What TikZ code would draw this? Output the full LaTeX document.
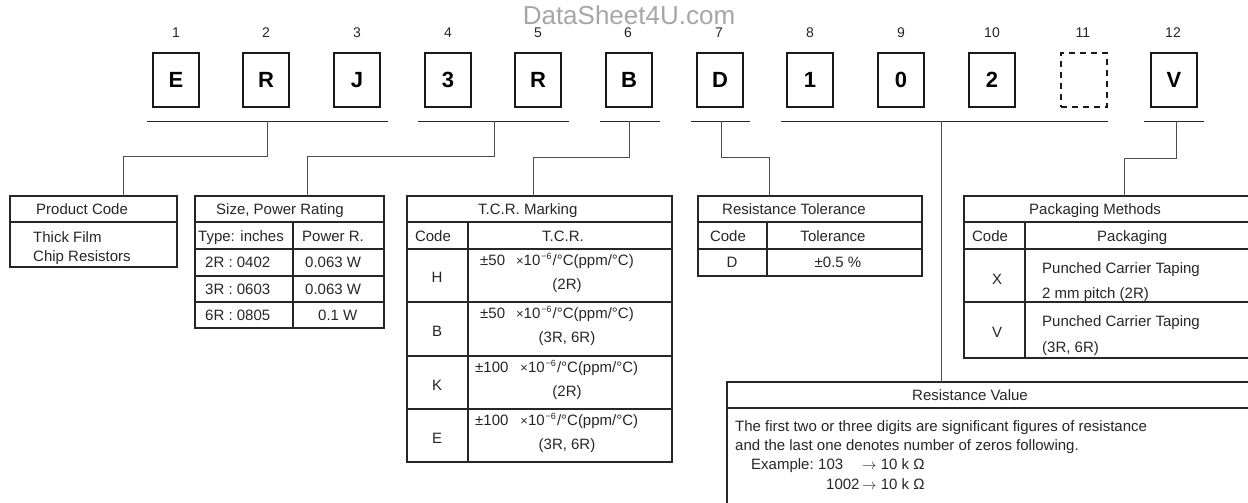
\documentclass[tikz,border=0pt]{standalone}
\usepackage{fontspec}
\setmainfont{Liberation Sans}
\newcommand{\tcrline}[2]{#1\hspace{#2}{\fontsize{13}{13}\selectfont×}10\hspace{1pt}\raisebox{6pt}{\fontsize{9}{9}\selectfont −6}\hspace{1pt}/°C(ppm/°C)}
\begin{document}
\begin{tikzpicture}[x=1pt,y=-1pt,
  letterbox/.style={draw=black!90, line width=1.3pt, minimum width=46pt, minimum height=54pt, inner sep=0pt, outer sep=0pt, text height=16pt, text depth=0pt, font=\fontsize{22}{22}\selectfont\bfseries},
  dashbox/.style={letterbox, dash pattern=on 6pt off 5pt, line width=1.2pt},
  numlabel/.style={font=\fontsize{14}{14}\selectfont, inner sep=0pt, text height=10pt, text depth=0pt, text=black!85},
  bar/.style={line width=1pt, draw=black!85},
  conn/.style={line width=1pt, draw=black!70},
  tblbox/.style={draw=black!85, line width=1.2pt, inner sep=0pt, outer sep=0pt, anchor=north west},
  tline/.style={draw=black!85, line width=1.2pt},
  txt/.style={font=\fontsize{15}{15}\selectfont, inner sep=0pt, text height=10.7pt, text depth=0pt, text=black!85, anchor=west},
  ctxt/.style={txt, anchor=center},
]
\path[use as bounding box] (0,0) rectangle (1248,503);
\clip (0,0) rectangle (1248,503);

% watermark
\node[font=\fontsize{26}{26}\selectfont, text=black!35, inner sep=0pt, text height=19pt, text depth=0pt] (wm) at (629,15) {DataSheet4U.com};

% position numbers
\foreach \i/\x in {1/176,2/266,3/357,4/448,5/538,6/628,7/719,8/810,9/901,10/992,11/1083,12/1173}
  \node[numlabel] (n\i) at (\x,33) {\i};

% letter boxes
\foreach \i/\x/\c in {1/176/E,2/266/R,3/357/J,4/448/3,5/538/R,6/629/B,7/720/D,8/810/1,9/901/0,10/992/2,12/1174/V}
  \node[letterbox] (b\i) at (\x,80) {\c};
\node[dashbox] (b11) at (1084,80) {};

% underline bars
\coordinate (bar1L) at (147,121); \coordinate (bar1R) at (388,121);
\coordinate (bar2L) at (418,121); \coordinate (bar2R) at (569,121);
\coordinate (bar3L) at (600,121); \coordinate (bar3R) at (660,121);
\coordinate (bar4L) at (691,121); \coordinate (bar4R) at (750,121);
\coordinate (bar5L) at (781,121); \coordinate (bar5R) at (1108,121);
\coordinate (bar6L) at (1144,121); \coordinate (bar6R) at (1204,121);
\foreach \k in {1,...,6} \draw[bar] (bar\k L) -- (bar\k R);

\coordinate (s1) at (267,121);
\coordinate (s2) at (494,121);
\coordinate (s3) at (629,121);
\coordinate (s4) at (721,121);
\coordinate (s5) at (941,121);
\coordinate (s6) at (1176,121);

% ---------- Product Code ----------
\node[tblbox, minimum width=167pt, minimum height=71pt] (pc) at (10,196) {};
\draw[tline] (10,222) -- (177,222);
\node[txt] (pc1) at (36,209) {Product Code};
\node[txt] (pc2) at (33,237) {Thick Film};
\node[txt] (pc3) at (33,256) {Chip Resistors};
\coordinate (pcIn) at (123,196);

% ---------- Size, Power Rating ----------
\node[tblbox, minimum width=189pt, minimum height=132pt] (sz) at (195,196) {};
\foreach \yy in {222,249,276,302} \draw[tline] (195,\yy) -- (384,\yy);
\draw[tline] (293,222) -- (293,328);
\node[txt] (sz0) at (216,209) {Size, Power Rating};
\node[txt] (sz1) at (198,236) {Type: inches};
\node[txt] (sz2) at (302,236) {Power R.};
\node[txt] (sz3) at (205,262) {2R : 0402};
\node[txt] (sz4) at (305,262) {0.063 W};
\node[txt] (sz5) at (205,289) {3R : 0603};
\node[txt] (sz6) at (305,289) {0.063 W};
\node[txt] (sz7) at (205,315) {6R : 0805};
\node[txt] (sz8) at (318,315) {0.1 W};
\coordinate (szIn) at (307,196);

% ---------- T.C.R. Marking ----------
\node[tblbox, minimum width=265pt, minimum height=266pt] (tcr) at (407,196) {};
\foreach \yy in {222,249,302,356,409} \draw[tline] (407,\yy) -- (672,\yy);
\draw[tline] (468,222) -- (468,462);
\node[txt] (tc0) at (478,209) {T.C.R. Marking};
\node[ctxt] (tc1) at (433,236) {Code};
\node[txt] (tc2) at (542,236) {T.C.R.};
\node[ctxt] (tcH) at (437,277) {H};
\node[ctxt] (tcB) at (437,331) {B};
\node[ctxt] (tcK) at (437,385) {K};
\node[ctxt] (tcE) at (437,438) {E};
\node[txt] (tcH1) at (480,260) {\tcrline{±50}{11pt}};
\node[ctxt] (tcH2) at (567,284) {(2R)};
\node[txt] (tcB1) at (480,313) {\tcrline{±50}{11pt}};
\node[ctxt] (tcB2) at (567,337) {(3R, 6R)};
\node[txt] (tcK1) at (475,367) {\tcrline{±100}{12pt}};
\node[ctxt] (tcK2) at (567,391) {(2R)};
\node[txt] (tcE1) at (475,420) {\tcrline{±100}{12pt}};
\node[ctxt] (tcE2) at (567,444) {(3R, 6R)};
\coordinate (tcIn) at (533,196);

% ---------- Resistance Tolerance ----------
\node[tblbox, minimum width=224pt, minimum height=80pt] (tol) at (698,196) {};
\foreach \yy in {222,249} \draw[tline] (698,\yy) -- (922,\yy);
\draw[tline] (767,222) -- (767,276);
\node[txt] (to0) at (722,209) {Resistance Tolerance};
\node[ctxt] (to1) at (728,236) {Code};
\node[ctxt] (to2) at (833,236) {Tolerance};
\node[ctxt] (to3) at (732,262) {D};
\node[ctxt] (to4) at (838,262) {±0.5 \%};
\coordinate (toIn) at (769,196);

% ---------- Packaging Methods ----------
\node[tblbox, minimum width=300pt, minimum height=162pt] (pk) at (964,196) {};
\foreach \yy in {222,249,302} \draw[tline] (964,\yy) -- (1264,\yy);
\draw[tline] (1025,222) -- (1025,358);
\node[txt] (pk0) at (1029,209) {Packaging Methods};
\node[ctxt] (pk1) at (990,236) {Code};
\node[txt] (pk2) at (1097,236) {Packaging};
\node[ctxt] (pkX) at (997,279) {X};
\node[txt] (pkX1) at (1042,268) {Punched Carrier Taping};
\node[txt] (pkX2) at (1042,293) {2 mm pitch (2R)};
\node[ctxt] (pkV) at (997,332) {V};
\node[txt] (pkV1) at (1042,321) {Punched Carrier Taping};
\node[txt] (pkV2) at (1042,347) {(3R, 6R)};
\coordinate (pkIn) at (1124,196);

% ---------- Resistance Value ----------
\node[tblbox, minimum width=540pt, minimum height=140pt] (rv) at (727,382) {};
\draw[tline] (727,408) -- (1267,408);
\node[txt] (rv0) at (912,395) {Resistance Value};
\node[txt] (rv1) at (735,426) {The first two or three digits are significant figures of resistance};
\node[txt] (rv2) at (735,445) {and the last one denotes number of zeros following.};
\node[txt] (rv3) at (751,464) {Example:};
\node[txt] (rv4) at (818,464) {103};
\node[txt] (rv5) at (862,464) {$\rightarrow$ 10 k Ω};
\node[txt] (rv6) at (826,484) {1002};
\node[txt] (rv7) at (862,484) {$\rightarrow$ 10 k Ω};
\coordinate (rvIn) at (941,382);

% ---------- connectors ----------
\draw[conn] (s1) -- ++(0,35) -| (pcIn);
\draw[conn] (s2) -- ++(0,35) -| (szIn);
\draw[conn] (s3) -- ++(0,36) -| (tcIn);
\draw[conn] (s4) -- ++(0,36) -| (toIn);
\draw[conn] (s5) -- (rvIn);
\draw[conn] (s6) -- ++(0,37) -| (pkIn);
\end{tikzpicture}
\end{document}
